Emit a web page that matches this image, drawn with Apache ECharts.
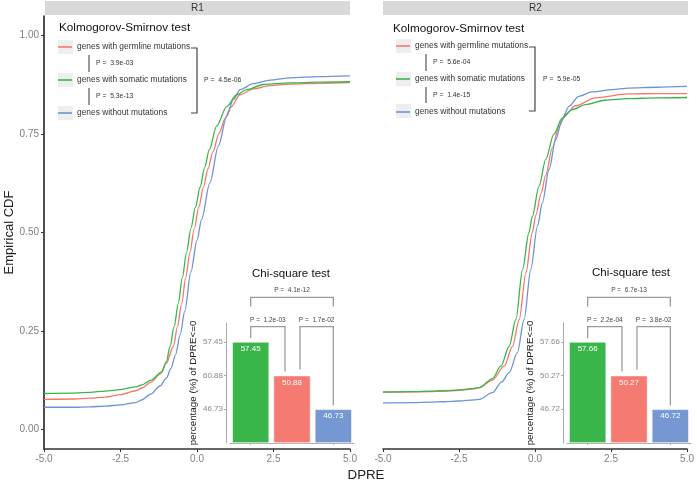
<!DOCTYPE html>
<html><head><meta charset="utf-8">
<script src="https://cdn.jsdelivr.net/npm/echarts@6/dist/echarts.min.js"></script>
<style>html,body{margin:0;padding:0;background:#fff}#c{width:697px;height:481px}</style>
</head><body><div id="c"></div>
<script>
// ---------- data ----------
const seriesNames = ['genes with germline mutations', 'genes with somatic mutations', 'genes without mutations'];
const panelNames = ['R1', 'R2'];
const xTicks = [-5, -2.5, 0, 2.5, 5];
const yTicks = [0, 0.25, 0.5, 0.75, 1];

const r1Germline = [[-5,0.076],[-4,0.077],[-3.5,0.079],[-3,0.082],[-2.5,0.088],[-2,0.098],[-1.8,0.105],[-1.5,0.12],[-1.21,0.14],[-1.0,0.168],[-0.77,0.211],[-0.64,0.26],[-0.5,0.32],[-0.37,0.385],[-0.23,0.45],[-0.09,0.51],[0.06,0.565],[0.21,0.615],[0.36,0.662],[0.52,0.705],[0.72,0.752],[0.92,0.79],[1.1,0.818],[1.41,0.85],[1.84,0.865],[2.39,0.873],[3.04,0.877],[4,0.879],[5,0.881]];
const r1Somatic = [[-5,0.091],[-4,0.092],[-3.5,0.094],[-3,0.097],[-2.5,0.101],[-2,0.108],[-1.8,0.113],[-1.5,0.125],[-1.15,0.146],[-1.0,0.172],[-0.88,0.211],[-0.75,0.26],[-0.61,0.32],[-0.48,0.385],[-0.34,0.45],[-0.2,0.51],[-0.05,0.565],[0.1,0.615],[0.25,0.665],[0.4,0.71],[0.64,0.77],[0.97,0.82],[1.3,0.85],[1.62,0.863],[2.17,0.876],[3.04,0.88],[4,0.882],[5,0.883]];
const r1Without = [[-5,0.056],[-4,0.056],[-3.5,0.057],[-3,0.059],[-2.5,0.062],[-2,0.068],[-1.8,0.075],[-1.5,0.09],[-1.21,0.11],[-1.0,0.13],[-0.85,0.155],[-0.7,0.19],[-0.55,0.24],[-0.4,0.3],[-0.2,0.4],[0,0.48],[0.15,0.533],[0.42,0.626],[0.7,0.72],[0.97,0.795],[1.19,0.838],[1.41,0.863],[1.84,0.878],[2.39,0.887],[3.04,0.893],[4,0.896],[5,0.898]];

const r2Germline = [[-5,0.094],[-4,0.095],[-3.46,0.096],[-3,0.097],[-2.5,0.099],[-2,0.103],[-1.83,0.106],[-1.4,0.125],[-1.01,0.161],[-0.74,0.211],[-0.52,0.279],[-0.3,0.398],[-0.09,0.5],[0.03,0.545],[0.2,0.6],[0.35,0.645],[0.57,0.715],[0.78,0.768],[1.0,0.8],[1.33,0.822],[1.98,0.842],[3.07,0.852],[4,0.853],[5,0.853]];
const r2Somatic = [[-5,0.095],[-4,0.096],[-3.46,0.097],[-3,0.098],[-2.5,0.1],[-2,0.104],[-1.83,0.106],[-1.4,0.129],[-1.12,0.161],[-0.85,0.211],[-0.63,0.279],[-0.41,0.406],[-0.2,0.5],[-0.09,0.54],[0.13,0.617],[0.35,0.685],[0.62,0.75],[0.89,0.79],[1.22,0.812],[1.66,0.825],[2.31,0.836],[3.07,0.84],[4,0.842],[5,0.843]];
const r2Without = [[-5,0.067],[-4,0.068],[-3.46,0.069],[-3,0.07],[-2.5,0.072],[-2,0.075],[-1.83,0.076],[-1.4,0.093],[-1.1,0.12],[-0.85,0.144],[-0.58,0.195],[-0.36,0.279],[-0.14,0.406],[0.08,0.516],[0.24,0.575],[0.46,0.66],[0.68,0.736],[0.89,0.787],[1.11,0.82],[1.44,0.846],[1.87,0.857],[2.53,0.863],[3.07,0.867],[4,0.869],[5,0.871]];

// KS-test p values: [germline vs somatic, somatic vs without, germline vs without]
const r1KsP = ['3.9e-03', '5.3e-13', '4.5e-06'];
const r2KsP = ['5.6e-04', '1.4e-15', '5.9e-05'];

// Chi-square inset: bars ordered somatic, germline, without
const chiCategories = ['somatic', 'germline', 'without'];
const r1Pct = [57.45, 50.88, 46.73];
const r2Pct = [57.66, 50.27, 46.72];
const r1BarRank = [3, 2, 1];          // drawn bar heights (rank scale, as in the picture)
const r2BarRank = [3, 2, 1];
const r1RankLabels = ['', '46.73', '60.88', '57.45']; // tick labels printed at rank 1..3
const r2RankLabels = ['', '46.72', '50.27', '57.66'];
// p values: [somatic-germline, germline-without, somatic-without]
const r1ChiP = ['1.2e-03', '1.7e-02', '4.1e-12'];
const r2ChiP = ['2.2e-04', '3.8e-02', '6.7e-13'];

// ---------- styles ----------
const FONT = 'Liberation Sans, Arial, sans-serif';
const lineColors = ['#F8766D', '#39B54A', '#6C93D6'];
const barColors = ['#3AB54A', '#F47A72', '#7598D2'];

const chart = echarts.init(document.getElementById('c'), null, {renderer: 'canvas'});

function mainX(i) {
  return {
    type: 'value', gridIndex: i, min: -5, max: 5, interval: 2.5,
    axisLine: {show: true, onZero: false, lineStyle: {color: '#333', width: 1.6}},
    axisTick: {show: true, length: 3, lineStyle: {color: '#333'}, customValues: xTicks},
    axisLabel: {color: '#7f7f7f', fontSize: 10, fontFamily: FONT, margin: 5, customValues: xTicks,
      formatter: v => v.toFixed(1)},
    splitLine: {show: false}
  };
}
function mainY(i) {
  return {
    type: 'value', gridIndex: i, min: -0.05, max: 1.05,
    name: i === 0 ? 'Empirical CDF' : '', nameLocation: 'middle', nameGap: 28, nameRotate: 90,
    nameTextStyle: {fontSize: 13, color: '#222', fontFamily: FONT},
    axisLine: {show: i === 0, onZero: false, lineStyle: {color: '#222', width: 1.6}},
    axisTick: {show: i === 0, length: 3, lineStyle: {color: '#333'}, customValues: yTicks},
    axisLabel: {show: i === 0, color: '#7f7f7f', fontSize: 10, fontFamily: FONT, margin: 5,
      customValues: yTicks, formatter: v => v.toFixed(2)},
    splitLine: {show: false}
  };
}
function insetX(i) {
  return {
    type: 'category', gridIndex: i, data: chiCategories,
    axisLine: {show: true, onZero: false, lineStyle: {color: '#aaa', width: 1}},
    axisTick: {show: true, alignWithLabel: true, length: 2, lineStyle: {color: '#aaa'}},
    axisLabel: {show: false}, splitLine: {show: false}
  };
}
function insetY(i, labels) {
  return {
    type: 'value', gridIndex: i, min: 0, max: 3.56, offset: 4,
    name: 'percentage (%) of DPRE<=0', nameLocation: 'middle', nameGap: 28, nameRotate: 90,
    nameTextStyle: {fontSize: 9.8, color: '#222', fontFamily: FONT},
    axisLine: {show: true, onZero: false, lineStyle: {color: '#aaa', width: 1}},
    axisTick: {show: true, length: 2, lineStyle: {color: '#aaa'}, customValues: [1, 2, 3]},
    axisLabel: {color: '#8a8a8a', fontSize: 8, fontFamily: FONT, margin: 3, customValues: [1, 2, 3],
      formatter: v => labels[Math.round(v)] || ''},
    splitLine: {show: false}
  };
}
function lineSeries(name, data, color, axisIdx) {
  return {name, type: 'line', xAxisIndex: axisIdx, yAxisIndex: axisIdx, data, color,
    showSymbol: false, smooth: 0.3, smoothMonotone: 'x', lineStyle: {width: 1.3, color}};
}
function barSeries(axisIdx, ranks, pct) {
  return {
    type: 'bar', xAxisIndex: axisIdx, yAxisIndex: axisIdx, barWidth: 37, z: 4,
    data: ranks.map((v, k) => ({value: v, itemStyle: {color: barColors[k], borderColor: '#fff', borderWidth: 0.6}})),
    label: {show: true, position: 'insideTop', distance: 3, color: '#fff', fontSize: 8, fontFamily: FONT,
      formatter: p => pct[p.dataIndex].toFixed(2)}
  };
}
function bracketSeries(axisIdx, ranks, pvals) {
  return {
    type: 'custom', xAxisIndex: axisIdx, yAxisIndex: axisIdx, clip: false, silent: true, z: 6,
    data: [[0, 1, 0, 0], [1, 2, 0, 1], [0, 2, 1, 2]],
    encode: {x: 0, y: 2},
    renderItem: (params, api) => {
      const i = api.value(0), j = api.value(1), tier = api.value(2), k = api.value(3);
      const a = api.coord([i, ranks[i]]), b = api.coord([j, ranks[j]]);
      let xa = a[0], xb = b[0], ya, yb, hy;
      if (tier === 0) {
        hy = api.coord([i, 3.45])[1];
        if (i === 0) { xb -= 7; ya = a[1] - 4; yb = b[1] - 4; }
        else { xa += 8; ya = a[1] - 6; yb = b[1] - 4; }
      } else {
        hy = api.coord([i, 4.32])[1];
        ya = yb = hy + 9;
      }
      return {type: 'group', children: [
        {type: 'polyline', shape: {points: [[xa, ya], [xa, hy], [xb, hy], [xb, yb]]},
          style: {stroke: '#9b9b9b', lineWidth: 1.3, fill: null}},
        {type: 'text', style: {text: 'P =  ' + pvals[k], x: (xa + xb) / 2, y: hy - 7, align: 'center',
          verticalAlign: 'middle', fontSize: 6.5, fill: '#444', fontFamily: FONT}}
      ]};
    }
  };
}

// ---------- decorations (strips, legend annotations, titles) ----------
function panelDecor(pi, x0, x1, keyX, titleX, titleY, keyYs, vLineX, pX, brX, bigPX, ksP, chiCX, chiTY) {
  const g = [];
  g.push({type: 'rect', shape: {x: x0, y: 1, width: x1 - x0, height: 14}, style: {fill: '#d9d9d9'}, z: 0});
  g.push({type: 'text', style: {text: panelNames[pi], x: (x0 + x1) / 2, y: 8.5,
    align: 'center', verticalAlign: 'middle', fontSize: 10, fill: '#333', fontFamily: FONT}});
  g.push({type: 'text', style: {text: 'Kolmogorov-Smirnov test', x: titleX, y: titleY, align: 'left',
    verticalAlign: 'middle', fontSize: 11.7, fill: '#111', fontFamily: FONT}});
  keyYs.forEach(y => g.push({type: 'rect', shape: {x: keyX, y: y - 7, width: 15, height: 14}, style: {fill: '#eeeeee'}, z: 0}));
  g.push({type: 'line', shape: {x1: vLineX, y1: keyYs[0] + 8, x2: vLineX, y2: keyYs[1] - 8}, style: {stroke: '#555', lineWidth: 1.2}});
  g.push({type: 'line', shape: {x1: vLineX, y1: keyYs[1] + 8, x2: vLineX, y2: keyYs[2] - 8}, style: {stroke: '#555', lineWidth: 1.2}});
  g.push({type: 'text', style: {text: 'P =  ' + ksP[0], x: pX, y: (keyYs[0] + keyYs[1]) / 2, verticalAlign: 'middle', fontSize: 6.8, fill: '#333', fontFamily: FONT}});
  g.push({type: 'text', style: {text: 'P =  ' + ksP[1], x: pX, y: (keyYs[1] + keyYs[2]) / 2, verticalAlign: 'middle', fontSize: 6.8, fill: '#333', fontFamily: FONT}});
  g.push({type: 'polyline', shape: {points: [[brX - 6, keyYs[0] + 1], [brX, keyYs[0] + 1], [brX, keyYs[2]], [brX - 6, keyYs[2]]]},
    style: {stroke: '#444', lineWidth: 1.2, fill: null}});
  g.push({type: 'text', style: {text: 'P =  ' + ksP[2], x: bigPX, y: keyYs[1], verticalAlign: 'middle', fontSize: 6.8, fill: '#333', fontFamily: FONT}});
  g.push({type: 'text', style: {text: 'Chi-square test', x: chiCX, y: chiTY, align: 'center', verticalAlign: 'middle',
    fontSize: 11.5, fill: '#111', fontFamily: FONT}});
  return g;
}

const graphics = [].concat(
  panelDecor(0, 45, 350, 58, 59, 28, [47, 80, 113], 89, 96, 197, 204, r1KsP, 291, 274),
  panelDecor(1, 383, 688, 396, 393, 29, [46, 79, 111], 426, 433, 535, 543, r2KsP, 631, 273),
  [{type: 'text', style: {text: 'DPRE', x: 366, y: 475, align: 'center', verticalAlign: 'middle', fontSize: 13.3, fill: '#222', fontFamily: FONT}}]
);

function legendAt(left, top) {
  return {data: seriesNames, orient: 'vertical', left, top, itemWidth: 14, itemHeight: 1.6, itemGap: 19,
    icon: 'rect', padding: 0, textStyle: {fontSize: 8.4, color: '#333', lineHeight: 14, fontFamily: FONT}};
}

chart.setOption({
  animation: false,
  backgroundColor: '#fff',
  textStyle: {fontFamily: FONT},
  grid: [
    {left: 44, top: 16, width: 306, height: 433},
    {left: 383, top: 16, width: 306, height: 433},
    {left: 230, top: 323, width: 124, height: 120},
    {left: 567, top: 323, width: 124, height: 120}
  ],
  xAxis: [mainX(0), mainX(1), insetX(2), insetX(3)],
  yAxis: [mainY(0), mainY(1), insetY(2, r1RankLabels), insetY(3, r2RankLabels)],
  legend: [legendAt(58, 40), legendAt(396, 39)],
  graphic: graphics,
  series: [
    lineSeries(seriesNames[0], r1Germline, lineColors[0], 0),
    lineSeries(seriesNames[2], r1Without, lineColors[2], 0),
    lineSeries(seriesNames[1], r1Somatic, lineColors[1], 0),
    lineSeries(seriesNames[0], r2Germline, lineColors[0], 1),
    lineSeries(seriesNames[2], r2Without, lineColors[2], 1),
    lineSeries(seriesNames[1], r2Somatic, lineColors[1], 1),
    barSeries(2, r1BarRank, r1Pct),
    barSeries(3, r2BarRank, r2Pct),
    bracketSeries(2, r1BarRank, r1ChiP),
    bracketSeries(3, r2BarRank, r2ChiP)
  ]
});
</script>
</body></html>
